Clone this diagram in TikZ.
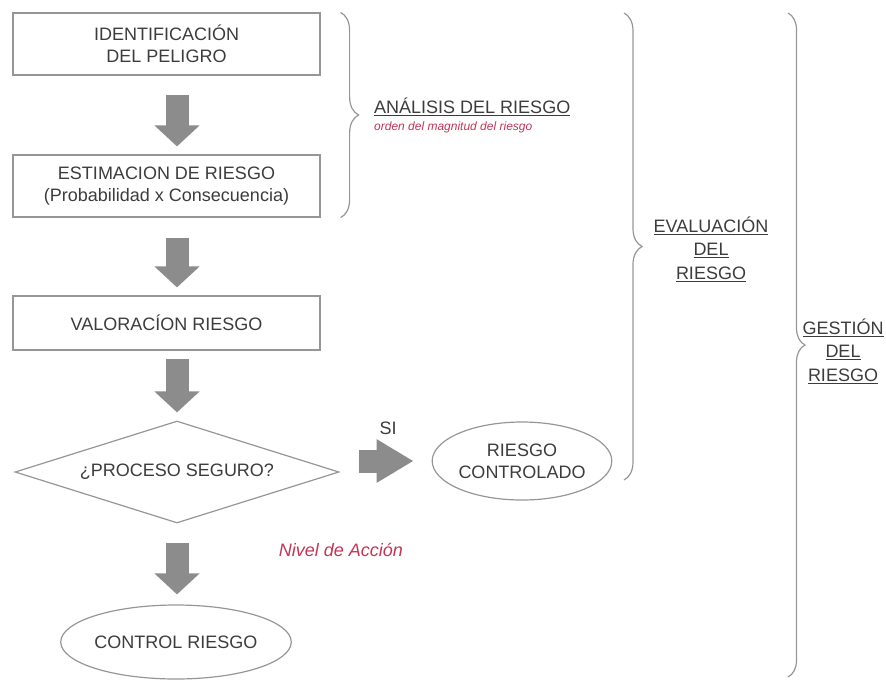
\documentclass[tikz,border=0pt]{standalone}
\usepackage{fontspec}
\setmainfont{Liberation Sans}
\usetikzlibrary{positioning, arrows.meta, shapes.geometric, decorations.pathreplacing}
\definecolor{linegray}{RGB}{150,150,150}
\definecolor{arrowgray}{RGB}{140,140,140}
\definecolor{textgray}{RGB}{60,60,60}
\definecolor{notered}{RGB}{196,52,86}
\tikzset{
		box nodes/.style={
			rectangle,
			draw=linegray,
			line width=1.2pt,
			align=center,
			minimum width=307pt,
			minimum height=62pt,
			inner sep=0pt,
			text=textgray,
			font=\fontsize{18}{22}\selectfont
		},
		decision/.style={
			box nodes,
			diamond,
			aspect=3.2,
			minimum width=324pt,
			minimum height=102pt
		},
		terminal/.style={
			box nodes,
			ellipse
		},
		flow arrow/.style={
			draw=arrowgray,
			line width=23pt,
			-{Triangle[width=44pt,length=21pt]}
		},
		side arrow/.style={
			draw=arrowgray,
			line width=23pt,
			-{Triangle[width=41pt,length=37pt]}
		},
		brace/.style={
			decorate,
			decoration={brace, amplitude=18pt},
			draw=linegray,
			line width=1.2pt
		},
		side label/.style={
			align=center,
			inner sep=0pt,
			text=textgray,
			font=\fontsize{18}{23.5}\selectfont
		},
		note label/.style={
			inner sep=0pt,
			text=notered,
			font=\fontsize{12}{14}\selectfont\itshape
		}
	}
\begin{document}
\begin{tikzpicture}[x=1pt, y=-1pt]
		\useasboundingbox (0,0) rectangle (886,681);
		\node[box nodes] (ident) at (166.5,44) {IDENTIFICACIÓN\\DEL PELIGRO};
		\node[box nodes] (estim) at (166.5,186) {ESTIMACION DE RIESGO\\(Probabilidad x Consecuencia)};
		\node[box nodes, minimum height=54pt] (valor) at (166.5,323) {VALORACÍON RIESGO};
		\node[decision] (seguro) at (177,472) {¿PROCESO SEGURO?};
		\node[terminal, minimum width=164pt, minimum height=78pt] (controlado) at (522,461) {RIESGO\\CONTROLADO};
		\node[terminal, minimum width=204pt, minimum height=74pt] (control) at (176,642) {CONTROL RIESGO};
		%arrows:
		\draw[flow arrow, shorten <=19pt, shorten >=8pt] (ident.south -| seguro.north) -- (estim.north -| seguro.north);
		\draw[flow arrow, shorten <=20pt, shorten >=8pt] (estim.south -| seguro.north) -- (valor.north -| seguro.north);
		\draw[flow arrow, shorten <=8pt, shorten >=8pt] (valor.south -| seguro.north) -- (seguro.north);
		\draw[flow arrow, shorten <=19pt, shorten >=10pt] (seguro.south) -- (control.north -| seguro.south);
		\draw[side arrow, shorten <=19pt, shorten >=18pt] (seguro.east |- controlado.west) -- (controlado.west);
		\node[side label] (si) at (388,428) {SI};
		\node[note label, font=\fontsize{18}{22}\selectfont\itshape] (nivel) at (341,550) {Nivel de Acción};
		%braces:
		\coordinate (eval top) at (624,13);
		\coordinate (eval bottom) at (624,480);
		\coordinate (gest top) at (788,13);
		\coordinate (gest bottom) at (788,677);
		\draw[brace] ([xshift=20pt]ident.north east) -- ([xshift=20pt]estim.south east);
		\draw[brace] (eval top) -- (eval bottom);
		\draw[brace, decoration={amplitude=17pt}] (gest top) -- (gest bottom);
		\node[side label, anchor=west] (analisis) at (374,107) {\underline{ANÁLISIS DEL RIESGO}};
		\node[note label, anchor=west] (orden) at (374,127) {orden del magnitud del riesgo};
		\node[side label] (evaluacion) at (711,249) {\underline{EVALUACIÓN}\\\underline{DEL}\\\underline{RIESGO}};
		\node[side label] (gestion) at (843,351) {\underline{GESTIÓN}\\\underline{DEL}\\\underline{RIESGO}};
	\end{tikzpicture}
\end{document}
